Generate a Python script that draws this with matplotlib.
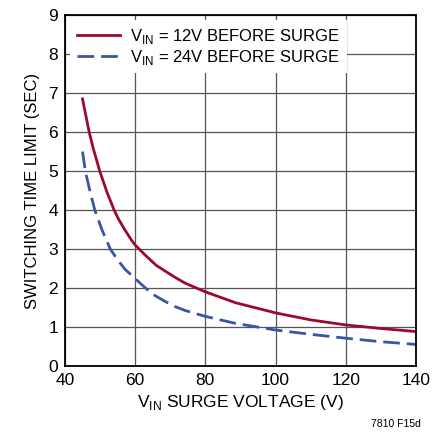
import matplotlib.pyplot as plt

plt.rcParams['font.family'] = ['Liberation Sans', 'DejaVu Sans']
plt.rcParams['mathtext.fontset'] = 'custom'
plt.rcParams['mathtext.rm'] = 'Liberation Sans'

# Data
v_12 = [45, 46, 46.9, 48, 49.9, 52, 54, 55.3, 57, 59, 60, 63, 66, 68.6, 71.4, 74.3, 80, 88.6,
        100, 110, 120, 130, 140]
t_12 = [6.85, 6.4, 6.0, 5.6, 5.0, 4.45, 4.0, 3.76, 3.5, 3.22, 3.1, 2.83, 2.58, 2.43, 2.27, 2.12,
        1.9, 1.62, 1.36, 1.18, 1.05, 0.96, 0.88]

v_24 = [45, 45.8, 47, 48.5, 50.5, 52.9, 55, 57.1, 60, 62.9, 65.7, 68.6, 71.4, 74.3, 80, 88.6,
        100, 110, 120, 130, 140]
t_24 = [5.5, 5.0, 4.53, 4.0, 3.5, 3.0, 2.72, 2.48, 2.24, 2.0, 1.8, 1.65, 1.52, 1.42, 1.27, 1.09,
        0.92, 0.81, 0.71, 0.62, 0.55]

fig = plt.figure(figsize=(4.42, 4.34), dpi=100)
ax = fig.add_axes([0.147, 0.157, 0.794, 0.808])

ax.plot(v_12, t_12, color='#9b0a2e', lw=2.0, label=r'V$_{\mathregular{IN}}$ = 12V BEFORE SURGE')
ax.plot(v_24, t_24, color='#3a55a4', lw=2.0, dashes=(6, 2.5), label=r'V$_{\mathregular{IN}}$ = 24V BEFORE SURGE')

ax.set_xlim(40, 140)
ax.set_ylim(0, 9)
ax.set_xticks(range(40, 141, 20))
ax.set_yticks(range(0, 10))
ax.grid(True, color='#555555', lw=0.9)
ax.tick_params(length=0, labelsize=12.5, pad=5)
for s in ax.spines.values():
    s.set_linewidth(1.3)
    s.set_color('black')
    s.set_zorder(5)

ax.set_xlabel(r'V$_{\mathregular{IN}}$ SURGE VOLTAGE (V)', fontsize=12.5, labelpad=4)
ax.set_ylabel('SWITCHING TIME LIMIT (SEC)', fontsize=12, labelpad=6)

leg = ax.legend(loc='upper left', fontsize=12, frameon=True, fancybox=False,
                handlelength=2.6, borderaxespad=0.3, labelspacing=0.1,
                handletextpad=0.6, borderpad=0.4)
leg.get_frame().set_edgecolor('none')
leg.get_frame().set_facecolor('white')
leg.get_frame().set_alpha(1)

fig.text(0.895, 0.022, '7810 F15d', fontsize=7.5, ha='center', va='center')

plt.savefig('out.png', dpi=100)
